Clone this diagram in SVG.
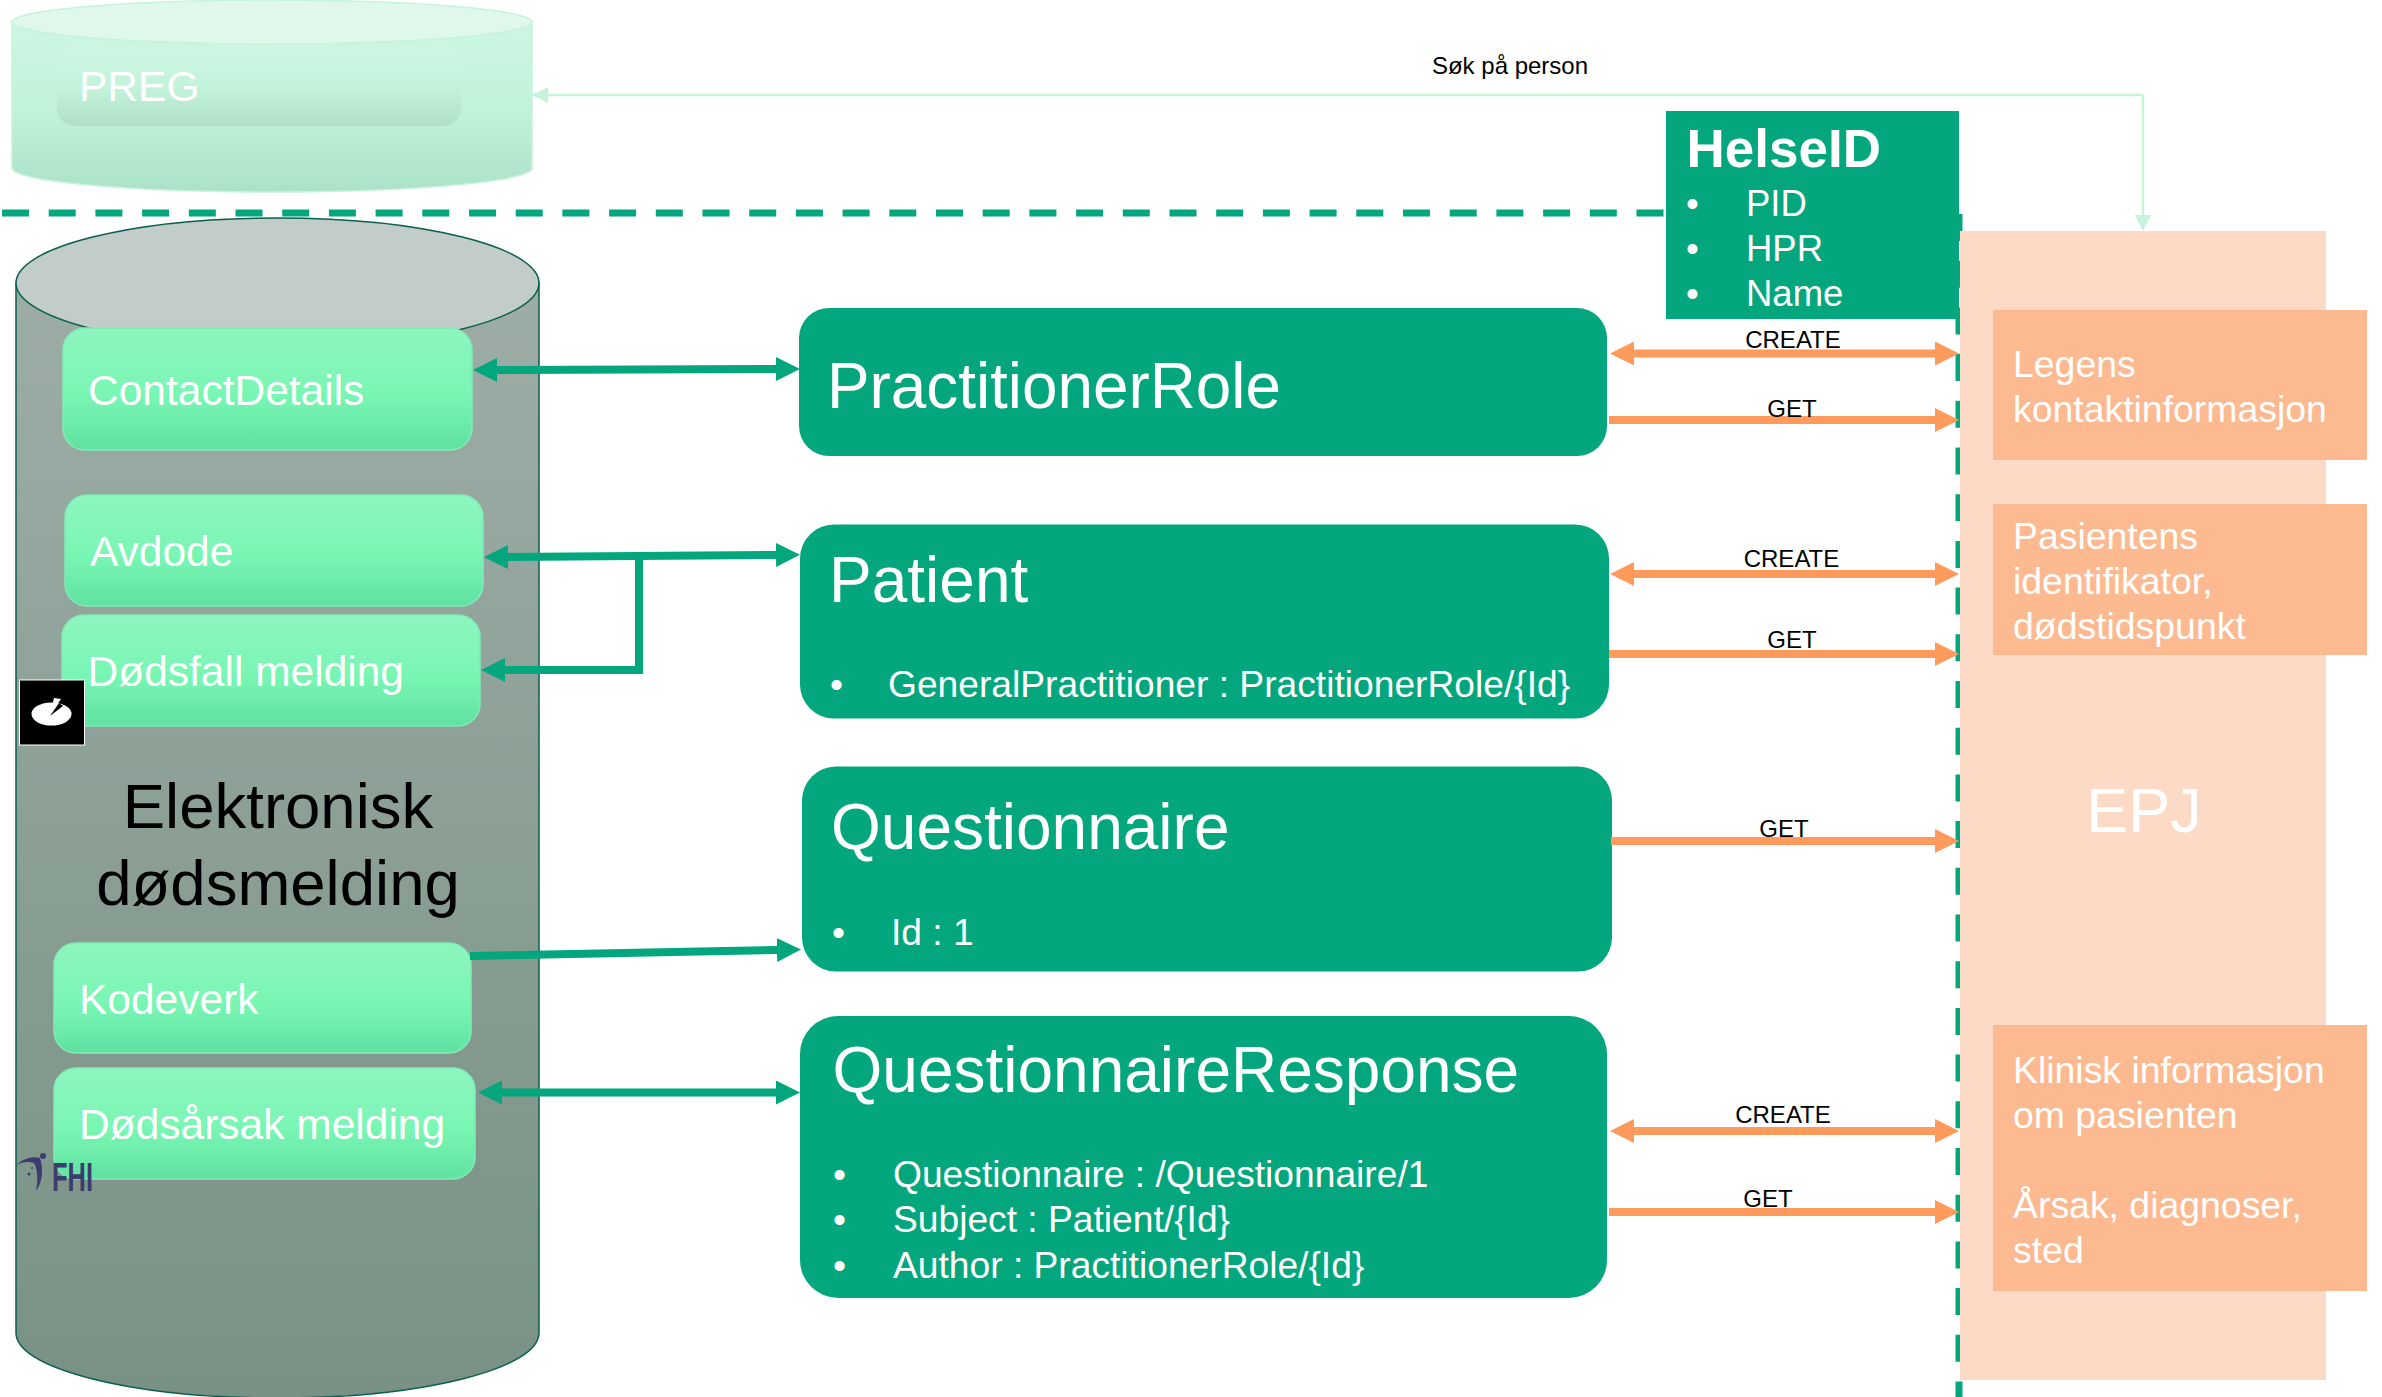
<svg xmlns="http://www.w3.org/2000/svg" width="2382" height="1397" viewBox="0 0 2382 1397">
<style>
text{font-family:"Liberation Sans",Arial,sans-serif;fill:#fff}
.pill{fill:url(#pillG);stroke:#80ecb6;stroke-width:1.5}
.res{fill:#03a67d}
.orange{fill:#fdb990}
.pt{font-size:42.5px}
.big{font-size:64px}
.sub{font-size:37.2px}
.ot{font-size:37.4px}
.lab{font-size:24px;fill:#000;text-anchor:middle}
.gc{fill:none;stroke:#03a67d;stroke-width:8}
.oc{fill:none;stroke:#fe9a5c;stroke-width:8}
</style>
<defs>
<linearGradient id="pillG" x1="0" y1="0" x2="0" y2="1"><stop offset="0" stop-color="#8ef5bf"/><stop offset=".55" stop-color="#79f6b4"/><stop offset="1" stop-color="#60e1a1"/></linearGradient>
<linearGradient id="cyl" x1="0" y1="0" x2="0" y2="1"><stop offset="0" stop-color="#9dada6"/><stop offset="1" stop-color="#799184"/></linearGradient>
<linearGradient id="pregB" x1="0" y1="0" x2="0" y2="1"><stop offset="0" stop-color="#cdf6e2"/><stop offset=".55" stop-color="#c0f2d9"/><stop offset="1" stop-color="#abe2c7"/></linearGradient>
<linearGradient id="pregI" x1="0" y1="0" x2="0" y2="1"><stop offset="0" stop-color="#cdf6e2"/><stop offset=".55" stop-color="#c2f3da"/><stop offset="1" stop-color="#afdfc7"/></linearGradient>
<marker id="gh" markerUnits="userSpaceOnUse" markerWidth="24" markerHeight="24" refX="1" refY="12" orient="auto-start-reverse"><path d="M0 0L24 12L0 24z" fill="#03a67d"/></marker>
<marker id="oh" markerUnits="userSpaceOnUse" markerWidth="24" markerHeight="24" refX="1" refY="12" orient="auto-start-reverse"><path d="M0 0L24 12L0 24z" fill="#fe9a5c"/></marker>
<marker id="ph" markerUnits="userSpaceOnUse" markerWidth="16" markerHeight="16" refX="1" refY="8" orient="auto"><path d="M0 0L16 8L0 16z" fill="#c5f3dc"/></marker>
</defs>
<rect width="2382" height="1397" fill="#fff"/>

<g id="preg">
<path d="M12 22V168A260 24 0 0 0 532 168V22z" fill="url(#pregB)" stroke="#c5f3dc" stroke-width="1.5"/>
<ellipse cx="272" cy="22" rx="260" ry="22" fill="#e0f8ec" stroke="#c5f3dc" stroke-width="1.5"/>
<rect x="57" y="45" width="404" height="81" rx="18" fill="url(#pregI)"/>
<text x="79" y="101" class="pt">PREG</text>
</g>

<path id="boundary-h" d="M2 213H1666" fill="none" stroke="#03a67d" stroke-width="7" stroke-dasharray="27 19.7"/>

<g id="helseid">
<rect class="res" x="1666" y="111" width="293" height="208"/>
<text x="1686.500" y="167" font-size="53" font-weight="700">HelseID</text>
<g font-size="36.500"><text x="1686" y="216">•</text><text x="1746" y="216">PID</text><text x="1686" y="261">•</text><text x="1746" y="261">HPR</text><text x="1686" y="306">•</text><text x="1746" y="306">Name</text></g>
</g>

<path id="boundary-v" d="M1959 214V1397" fill="none" stroke="#03a67d" stroke-width="7" stroke-dasharray="27 19.7"/>

<g id="edm">
<path d="M16 283V1333A261.500 65 0 0 0 539 1333V283z" fill="url(#cyl)" stroke="#0b5f4e" stroke-width="1.5"/>
<ellipse cx="277.500" cy="283" rx="261.500" ry="65" fill="#c2ccc8" stroke="#0b5f4e" stroke-width="1.5"/>
<text x="278" y="828" font-size="63.500" text-anchor="middle" style="fill:#000">Elektronisk</text>
<text x="278" y="905" font-size="63.500" text-anchor="middle" style="fill:#000">dødsmelding</text>
</g>

<g id="contactdetails"><rect class="pill" x="63" y="328" width="409" height="122" rx="22"/><text class="pt" x="88" y="405">ContactDetails</text></g>
<g id="avdode"><rect class="pill" x="65" y="495" width="418" height="111" rx="22"/><text class="pt" x="90" y="566">Avdode</text></g>
<g id="dodsfall"><rect class="pill" x="62" y="615" width="418" height="111" rx="22"/><text class="pt" x="87.500" y="686">Dødsfall melding</text></g>
<g id="kodeverk"><rect class="pill" x="54" y="943" width="417" height="110" rx="22"/><text class="pt" x="79" y="1014">Kodeverk</text></g>
<g id="dodsarsak"><rect class="pill" x="54" y="1068" width="421" height="111" rx="22"/><text class="pt" x="79" y="1139">Dødsårsak melding</text></g>

<g id="badge">
<rect x="19.500" y="680" width="65" height="65" fill="#000" stroke="#fff" stroke-width="1"/>
<ellipse cx="51.500" cy="714" rx="20" ry="11.500" fill="#fff"/>
<path d="M50 716L59 703L63 706Z" fill="#000"/>
<path d="M54 698L61 699L54 709L52 707Z" fill="#fff"/>
</g>

<g id="fhi-logo">
<path d="M16 1165C24 1158 33 1156 40 1158C44 1170 42 1183 36 1191C38 1180 38 1170 34 1163C28 1161 22 1162 16 1165z" fill="#3a3d6e"/>
<circle cx="43" cy="1156" r="3" fill="#3a3d6e"/><circle cx="29" cy="1174" r="1.500" fill="#3a3d6e"/><circle cx="32" cy="1168" r="1" fill="#3a3d6e"/>
<text x="52" y="1191" font-size="40" font-weight="700" textLength="41" lengthAdjust="spacingAndGlyphs" style="fill:#3a3d6e">FHI</text>
</g>

<g id="practitionerrole"><rect class="res" x="799" y="308" width="808" height="148" rx="30"/><text class="big" x="827" y="407.500" textLength="454" lengthAdjust="spacingAndGlyphs">PractitionerRole</text></g>
<g id="patient"><rect class="res" x="800" y="524.500" width="809" height="194" rx="34"/><text class="big" x="829" y="601.500">Patient</text><text class="sub" x="830" y="697">•</text><text class="sub" x="888" y="697">GeneralPractitioner : PractitionerRole/{Id}</text></g>
<g id="questionnaire"><rect class="res" x="802" y="766.500" width="810" height="205" rx="34"/><text class="big" x="831" y="849">Questionnaire</text><text class="sub" x="832" y="945">•</text><text class="sub" x="891" y="945">Id : 1</text></g>
<g id="questionnaireresponse"><rect class="res" x="800" y="1016" width="807" height="282" rx="38"/><text class="big" x="832.500" y="1092">QuestionnaireResponse</text>
<text class="sub" x="833" y="1187">•</text><text class="sub" x="893" y="1187">Questionnaire : /Questionnaire/1</text>
<text class="sub" x="833" y="1232">•</text><text class="sub" x="893" y="1232">Subject : Patient/{Id}</text>
<text class="sub" x="833" y="1277.500">•</text><text class="sub" x="893" y="1277.500">Author : PractitionerRole/{Id}</text></g>

<g id="epj"><rect x="1960" y="231" width="366" height="1149" fill="#fddac5"/><text x="2144" y="832" font-size="63" text-anchor="middle">EPJ</text></g>
<g id="legens"><rect class="orange" x="1993" y="310" width="374" height="150"/><text class="ot" x="2013" y="377">Legens</text><text class="ot" x="2013" y="422">kontaktinformasjon</text></g>
<g id="pasientens"><rect class="orange" x="1993" y="504" width="374" height="151"/><text class="ot" x="2013" y="549">Pasientens</text><text class="ot" x="2013" y="594">identifikator,</text><text class="ot" x="2013" y="639">dødstidspunkt</text></g>
<g id="klinisk"><rect class="orange" x="1993" y="1025" width="374" height="266"/><text class="ot" x="2013" y="1083">Klinisk informasjon</text><text class="ot" x="2013" y="1128">om pasienten</text><text class="ot" x="2013" y="1218">Årsak, diagnoser,</text><text class="ot" x="2013" y="1263">sted</text></g>

<g id="connectors">
<path d="M2143 95H532" fill="none" stroke="#c5f3dc" stroke-width="2.500"/>
<path d="M548 87L532 95L548 103z" fill="#c5f3dc"/>
<path d="M2143 95V216" fill="none" stroke="#c5f3dc" stroke-width="2.500" marker-end="url(#ph)"/>
<path class="gc" d="M496 370L777 369" marker-start="url(#gh)" marker-end="url(#gh)"/>
<path class="gc" d="M507 557L777 555" marker-start="url(#gh)" marker-end="url(#gh)"/>
<path class="gc" d="M504 670H639V552"/>
<path d="M505 658L481 670L505 682z" fill="#03a67d"/>
<path class="gc" d="M470 956L778 950" marker-end="url(#gh)"/>
<path class="gc" d="M501 1092.500H777" marker-start="url(#gh)" marker-end="url(#gh)"/>
<path class="oc" d="M1633 353.500H1936" marker-start="url(#oh)" marker-end="url(#oh)"/>
<path class="oc" d="M1609 420H1936" marker-end="url(#oh)"/>
<path class="oc" d="M1633 574H1936" marker-start="url(#oh)" marker-end="url(#oh)"/>
<path class="oc" d="M1609 654H1936" marker-end="url(#oh)"/>
<path class="oc" d="M1611 841H1936" marker-end="url(#oh)"/>
<path class="oc" d="M1633 1131H1936" marker-start="url(#oh)" marker-end="url(#oh)"/>
<path class="oc" d="M1609 1212H1936" marker-end="url(#oh)"/>
<g id="connector-labels">
<text class="lab" x="1510" y="74">Søk på person</text>
<text class="lab" x="1793" y="348">CREATE</text>
<text class="lab" x="1792" y="417">GET</text>
<text class="lab" x="1791.500" y="567">CREATE</text>
<text class="lab" x="1792" y="648">GET</text>
<text class="lab" x="1784" y="836.500">GET</text>
<text class="lab" x="1783" y="1123">CREATE</text>
<text class="lab" x="1768" y="1206.500">GET</text>
</g>
</g>
</svg>
